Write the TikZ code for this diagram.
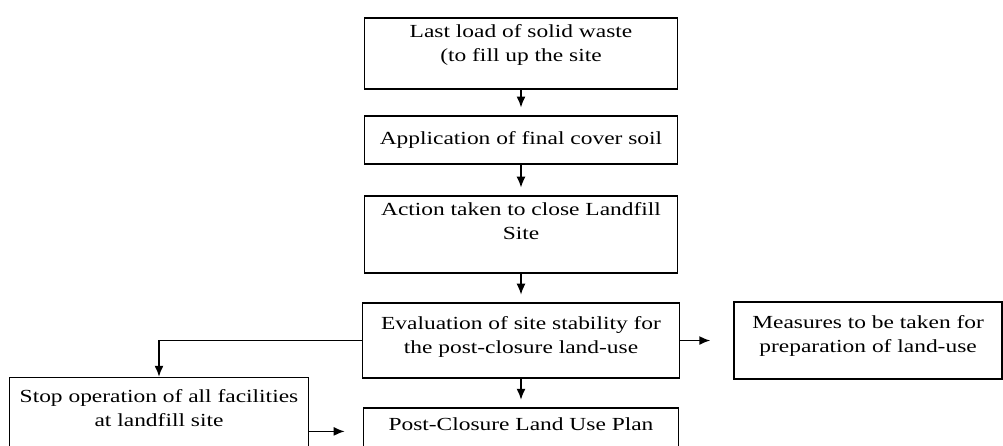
\documentclass[tikz,border=0pt]{standalone}
\usepackage{fontspec}
\setmainfont{Liberation Serif}[FakeStretch=1.27]
\usetikzlibrary{arrows.meta,positioning}
\tikzset{
  box/.style={draw, line width=0.9pt, align=center, inner sep=2pt, font=\fontsize{10.5pt}{13.8pt}\selectfont, minimum width=62.6mm},
  topbox/.style={box, inner ysep=4pt, text height=20.8pt},
  sidebox/.style={topbox, minimum width=53.6mm, text height=24.8pt, text depth=11pt},
  cutbox/.style={topbox, minimum width=59.8mm, text height=23.8pt, text depth=12pt},
  arr/.style={-{Latex[length=2.2mm, width=1.8mm]}, line width=0.9pt},
  gap/.style={arr, shorten >=1.5mm}}

\begin{document}
\begin{tikzpicture}
  \useasboundingbox (0,0) rectangle (200.6mm,-89.2mm);
  \node[topbox, text depth=11.6pt, anchor=north] (load) at (104.2mm,-3.4mm) {Last load of solid waste\\(to fill up the site};
  \node[box, minimum height=9.6mm, below=5.1mm of load] (cover) {Application of final cover soil};
  \node[topbox, text depth=15pt, below=6.1mm of cover] (close) {Action taken to close Landfill\\Site};
  \node[topbox, text height=24.8pt, text depth=9.9pt, minimum width=63.4mm, below=5.7mm of close] (eval) {Evaluation of site stability for\\the post-closure land-use};
  \node[topbox, text height=8.5pt, text depth=10pt, minimum width=63mm, below=5.7mm of eval] (post) {Post-Closure Land Use Plan};
  \node[sidebox, right=10.6mm of eval] (measures) {Measures to be taken for\\preparation of land-use};
  \node[cutbox, below=-0.4mm of eval, xshift=-72.4mm] (stop) {Stop operation of all facilities\\at landfill site};
  \draw[gap] (load) -- (cover);
  \draw[gap] (cover) -- (close);
  \draw[gap] (close) -- (eval);
  \draw[gap] (eval) -- (post);
  \draw[arr, shorten >=4.6mm] (eval) -- (measures);
  \draw[arr] (eval.west) -| (stop.north);
  \draw[arr, shorten >=3.6mm] (stop.east |- post.west) -- (post.west);
\end{tikzpicture}
\end{document}
